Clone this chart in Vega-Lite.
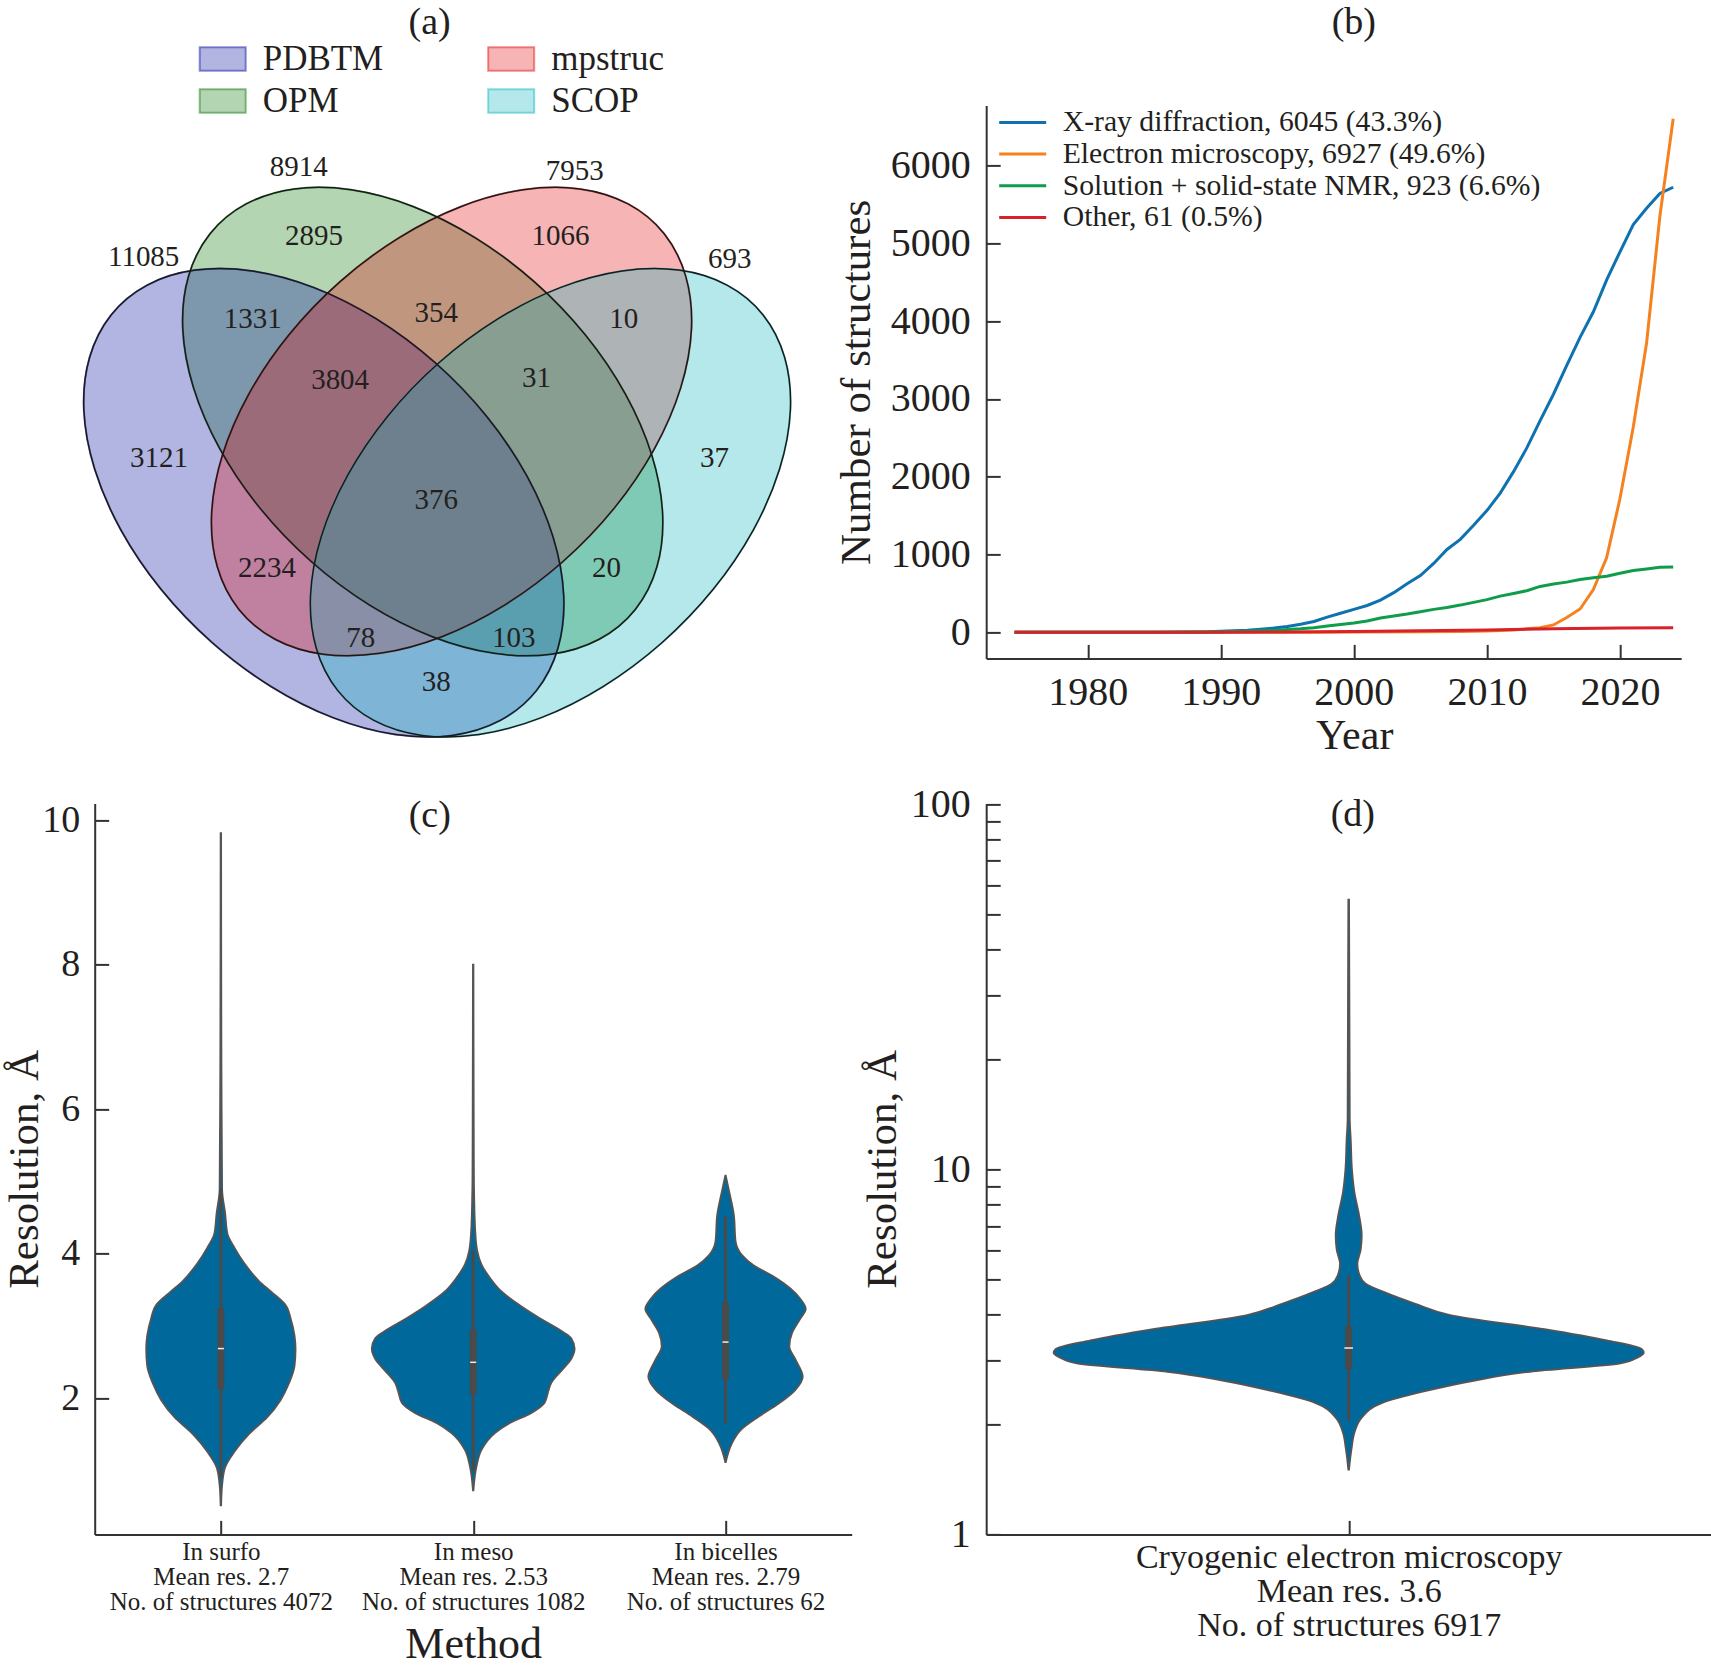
{"$schema":"https://vega.github.io/schema/vega-lite/v6.json","padding":{"left":3.7,"top":3.4,"right":0,"bottom":0},"background":"white","bounds":"flush","columns":2,"spacing":{"row":14,"column":134.5},
"config":{"font":"Liberation Serif","view":{"stroke":null},"text":{"color":"#231F20"},"axis":{"grid":false,"domainColor":"#333333","domainWidth":2,"tickColor":"#333333","tickWidth":2,"tickSize":-14,"labelColor":"#231F20","titleColor":"#231F20","titleFontWeight":"normal","labelFontWeight":"normal","labelOverlap":false,"labelFlush":false,"labelLimit":0}},
"concat":[
{"width":757,"height":684,
"data":{"values":[
{"set":"OPM","k":0,"x":0.2025,"y":0.7314},{"set":"OPM","k":1,"x":0.2493,"y":0.7681},{"set":"OPM","k":2,"x":0.3118,"y":0.7866},{"set":"OPM","k":3,"x":0.3856,"y":0.7855},{"set":"OPM","k":4,"x":0.4657,"y":0.7650},{"set":"OPM","k":5,"x":0.5466,"y":0.7264},{"set":"OPM","k":6,"x":0.6229,"y":0.6724},{"set":"OPM","k":7,"x":0.6894,"y":0.6066},{"set":"OPM","k":8,"x":0.7414,"y":0.5336},{"set":"OPM","k":9,"x":0.7756,"y":0.4582},{"set":"OPM","k":10,"x":0.7895,"y":0.3858},{"set":"OPM","k":11,"x":0.7821,"y":0.3211},{"set":"OPM","k":12,"x":0.7541,"y":0.2686},{"set":"OPM","k":13,"x":0.7073,"y":0.2319},{"set":"OPM","k":14,"x":0.6448,"y":0.2134},{"set":"OPM","k":15,"x":0.5710,"y":0.2145},{"set":"OPM","k":16,"x":0.4909,"y":0.2350},{"set":"OPM","k":17,"x":0.4100,"y":0.2736},{"set":"OPM","k":18,"x":0.3337,"y":0.3276},{"set":"OPM","k":19,"x":0.2672,"y":0.3934},{"set":"OPM","k":20,"x":0.2152,"y":0.4664},{"set":"OPM","k":21,"x":0.1810,"y":0.5418},{"set":"OPM","k":22,"x":0.1671,"y":0.6142},{"set":"OPM","k":23,"x":0.1745,"y":0.6789},
{"set":"PDBTM","k":0,"x":0.0742,"y":0.6314},{"set":"PDBTM","k":1,"x":0.1210,"y":0.6681},{"set":"PDBTM","k":2,"x":0.1835,"y":0.6866},{"set":"PDBTM","k":3,"x":0.2573,"y":0.6855},{"set":"PDBTM","k":4,"x":0.3374,"y":0.6650},{"set":"PDBTM","k":5,"x":0.4183,"y":0.6264},{"set":"PDBTM","k":6,"x":0.4946,"y":0.5724},{"set":"PDBTM","k":7,"x":0.5611,"y":0.5066},{"set":"PDBTM","k":8,"x":0.6131,"y":0.4336},{"set":"PDBTM","k":9,"x":0.6473,"y":0.3582},{"set":"PDBTM","k":10,"x":0.6612,"y":0.2858},{"set":"PDBTM","k":11,"x":0.6538,"y":0.2211},{"set":"PDBTM","k":12,"x":0.6258,"y":0.1686},{"set":"PDBTM","k":13,"x":0.5790,"y":0.1319},{"set":"PDBTM","k":14,"x":0.5165,"y":0.1134},{"set":"PDBTM","k":15,"x":0.4427,"y":0.1145},{"set":"PDBTM","k":16,"x":0.3626,"y":0.1350},{"set":"PDBTM","k":17,"x":0.2817,"y":0.1736},{"set":"PDBTM","k":18,"x":0.2054,"y":0.2276},{"set":"PDBTM","k":19,"x":0.1389,"y":0.2934},{"set":"PDBTM","k":20,"x":0.0869,"y":0.3664},{"set":"PDBTM","k":21,"x":0.0527,"y":0.4418},{"set":"PDBTM","k":22,"x":0.0388,"y":0.5142},{"set":"PDBTM","k":23,"x":0.0462,"y":0.5789},
{"set":"mpstruc","k":0,"x":0.7915,"y":0.7314},{"set":"mpstruc","k":1,"x":0.7447,"y":0.7681},{"set":"mpstruc","k":2,"x":0.6822,"y":0.7866},{"set":"mpstruc","k":3,"x":0.6084,"y":0.7855},{"set":"mpstruc","k":4,"x":0.5283,"y":0.7650},{"set":"mpstruc","k":5,"x":0.4474,"y":0.7264},{"set":"mpstruc","k":6,"x":0.3711,"y":0.6724},{"set":"mpstruc","k":7,"x":0.3046,"y":0.6066},{"set":"mpstruc","k":8,"x":0.2526,"y":0.5336},{"set":"mpstruc","k":9,"x":0.2184,"y":0.4582},{"set":"mpstruc","k":10,"x":0.2045,"y":0.3858},{"set":"mpstruc","k":11,"x":0.2119,"y":0.3211},{"set":"mpstruc","k":12,"x":0.2399,"y":0.2686},{"set":"mpstruc","k":13,"x":0.2867,"y":0.2319},{"set":"mpstruc","k":14,"x":0.3492,"y":0.2134},{"set":"mpstruc","k":15,"x":0.4230,"y":0.2145},{"set":"mpstruc","k":16,"x":0.5031,"y":0.2350},{"set":"mpstruc","k":17,"x":0.5840,"y":0.2736},{"set":"mpstruc","k":18,"x":0.6603,"y":0.3276},{"set":"mpstruc","k":19,"x":0.7268,"y":0.3934},{"set":"mpstruc","k":20,"x":0.7788,"y":0.4664},{"set":"mpstruc","k":21,"x":0.8130,"y":0.5418},{"set":"mpstruc","k":22,"x":0.8269,"y":0.6142},{"set":"mpstruc","k":23,"x":0.8195,"y":0.6789},
{"set":"SCOP","k":0,"x":0.9198,"y":0.6314},{"set":"SCOP","k":1,"x":0.8730,"y":0.6681},{"set":"SCOP","k":2,"x":0.8105,"y":0.6866},{"set":"SCOP","k":3,"x":0.7367,"y":0.6855},{"set":"SCOP","k":4,"x":0.6566,"y":0.6650},{"set":"SCOP","k":5,"x":0.5757,"y":0.6264},{"set":"SCOP","k":6,"x":0.4994,"y":0.5724},{"set":"SCOP","k":7,"x":0.4329,"y":0.5066},{"set":"SCOP","k":8,"x":0.3809,"y":0.4336},{"set":"SCOP","k":9,"x":0.3467,"y":0.3582},{"set":"SCOP","k":10,"x":0.3328,"y":0.2858},{"set":"SCOP","k":11,"x":0.3402,"y":0.2211},{"set":"SCOP","k":12,"x":0.3682,"y":0.1686},{"set":"SCOP","k":13,"x":0.4150,"y":0.1319},{"set":"SCOP","k":14,"x":0.4775,"y":0.1134},{"set":"SCOP","k":15,"x":0.5513,"y":0.1145},{"set":"SCOP","k":16,"x":0.6314,"y":0.1350},{"set":"SCOP","k":17,"x":0.7123,"y":0.1736},{"set":"SCOP","k":18,"x":0.7886,"y":0.2276},{"set":"SCOP","k":19,"x":0.8551,"y":0.2934},{"set":"SCOP","k":20,"x":0.9071,"y":0.3664},{"set":"SCOP","k":21,"x":0.9413,"y":0.4418},{"set":"SCOP","k":22,"x":0.9552,"y":0.5142},{"set":"SCOP","k":23,"x":0.9478,"y":0.5789}
]},
"encoding":{
"x":{"field":"x","type":"quantitative","axis":null,"scale":{"domain":[0.0529,1.0347],"nice":false,"zero":false}},
"y":{"field":"y","type":"quantitative","axis":null,"scale":{"domain":[0.0469,0.8895],"nice":false,"zero":false}}},
"layer":[
{"mark":{"type":"line","interpolate":"cardinal-closed","fillOpacity":0.3,"strokeOpacity":0.45,"strokeWidth":2},
"encoding":{"order":{"field":"k","type":"quantitative"},
"fill":{"field":"set","type":"nominal","scale":{"domain":["PDBTM","OPM","mpstruc","SCOP"],"range":["#000A9E","#057300","#E10505","#05B4B8"]},
"legend":{"orient":"none","legendX":104,"legendY":-70.5,"title":null,"columns":2,"symbolType":"M-1,-0.51H1V0.51H-1Z","symbolSize":2116,"symbolStrokeWidth":2,"labelFontSize":35,"labelOffset":16,"columnPadding":100.5,"rowPadding":0,"labelColor":"#231F20","encoding":{"symbols":{"fillOpacity":{"value":0.3},"strokeOpacity":{"value":0.45}}}}},
"stroke":{"field":"set","type":"nominal","scale":{"domain":["PDBTM","OPM","mpstruc","SCOP"],"range":["#000A9E","#057300","#E10505","#05B4B8"]}}}},
{"mark":{"type":"line","interpolate":"cardinal-closed","stroke":"#1a1a1a","strokeWidth":1.5},
"encoding":{"order":{"field":"k","type":"quantitative"},"detail":{"field":"set","type":"nominal"}}},
{"data":{"values":[
{"x":0.1164,"y":0.7026,"t":"11085"},{"x":0.3174,"y":0.8141,"t":"8914"},{"x":0.6755,"y":0.8088,"t":"7953"},{"x":0.8765,"y":0.6999,"t":"693"},{"x":0.3373,"y":0.7281,"t":"2895"},{"x":0.6571,"y":0.7281,"t":"1066"},{"x":0.2580,"y":0.6260,"t":"1331"},{"x":0.4958,"y":0.6341,"t":"354"},{"x":0.7392,"y":0.6260,"t":"10"},{"x":0.3712,"y":0.5507,"t":"3804"},{"x":0.6260,"y":0.5534,"t":"31"},{"x":0.1363,"y":0.4553,"t":"3121"},{"x":0.4958,"y":0.4029,"t":"376"},{"x":0.8567,"y":0.4553,"t":"37"},{"x":0.2764,"y":0.3196,"t":"2234"},{"x":0.7166,"y":0.3196,"t":"20"},{"x":0.3981,"y":0.2336,"t":"78"},{"x":0.5963,"y":0.2336,"t":"103"},{"x":0.4958,"y":0.1798,"t":"38"}]},
"mark":{"type":"text","fontSize":29,"align":"center","baseline":"middle"},"encoding":{"text":{"field":"t"}}},
{"data":{"values":[{"x":0.4873,"y":0.9915,"t":"(a)"}]},"mark":{"type":"text","fontSize":38,"align":"center","baseline":"middle"},"encoding":{"text":{"field":"t"}}}
]},
{"width":695,"height":553,
"layer":[
{"data":{"values":[
{"yr":1974.5,"s":"xray","n":0},{"yr":1980,"s":"xray","n":0},{"yr":1985,"s":"xray","n":2},{"yr":1988,"s":"xray","n":5},{"yr":1989,"s":"xray","n":8},{"yr":1990,"s":"xray","n":15},{"yr":1991,"s":"xray","n":20},{"yr":1992,"s":"xray","n":28},{"yr":1993,"s":"xray","n":40},{"yr":1994,"s":"xray","n":55},{"yr":1995,"s":"xray","n":75},{"yr":1996,"s":"xray","n":105},{"yr":1997,"s":"xray","n":140},{"yr":1998,"s":"xray","n":195},{"yr":1999,"s":"xray","n":245},{"yr":2000,"s":"xray","n":295},{"yr":2001,"s":"xray","n":345},{"yr":2002,"s":"xray","n":415},{"yr":2003,"s":"xray","n":510},{"yr":2004,"s":"xray","n":625},{"yr":2005,"s":"xray","n":730},{"yr":2006,"s":"xray","n":885},{"yr":2007,"s":"xray","n":1065},{"yr":2008,"s":"xray","n":1195},{"yr":2009,"s":"xray","n":1375},{"yr":2010,"s":"xray","n":1565},{"yr":2011,"s":"xray","n":1790},{"yr":2012,"s":"xray","n":2065},{"yr":2013,"s":"xray","n":2370},{"yr":2014,"s":"xray","n":2720},{"yr":2015,"s":"xray","n":3060},{"yr":2016,"s":"xray","n":3430},{"yr":2017,"s":"xray","n":3790},{"yr":2018,"s":"xray","n":4120},{"yr":2019,"s":"xray","n":4530},{"yr":2020,"s":"xray","n":4890},{"yr":2021,"s":"xray","n":5240},{"yr":2022,"s":"xray","n":5450},{"yr":2023,"s":"xray","n":5640},{"yr":2024,"s":"xray","n":5720},
{"yr":1974.5,"s":"em","n":0},{"yr":1990,"s":"em","n":0},{"yr":1997,"s":"em","n":1},{"yr":2000,"s":"em","n":3},{"yr":2005,"s":"em","n":8},{"yr":2008,"s":"em","n":12},{"yr":2010,"s":"em","n":18},{"yr":2012,"s":"em","n":30},{"yr":2013,"s":"em","n":45},{"yr":2014,"s":"em","n":60},{"yr":2015,"s":"em","n":95},{"yr":2016,"s":"em","n":190},{"yr":2017,"s":"em","n":300},{"yr":2018,"s":"em","n":550},{"yr":2019,"s":"em","n":960},{"yr":2020,"s":"em","n":1720},{"yr":2021,"s":"em","n":2640},{"yr":2022,"s":"em","n":3720},{"yr":2023,"s":"em","n":5350},{"yr":2024,"s":"em","n":6600},
{"yr":1974.5,"s":"nmr","n":0},{"yr":1985,"s":"nmr","n":1},{"yr":1988,"s":"nmr","n":3},{"yr":1990,"s":"nmr","n":8},{"yr":1992,"s":"nmr","n":15},{"yr":1994,"s":"nmr","n":25},{"yr":1995,"s":"nmr","n":35},{"yr":1996,"s":"nmr","n":45},{"yr":1997,"s":"nmr","n":60},{"yr":1998,"s":"nmr","n":80},{"yr":1999,"s":"nmr","n":100},{"yr":2000,"s":"nmr","n":120},{"yr":2001,"s":"nmr","n":145},{"yr":2002,"s":"nmr","n":185},{"yr":2003,"s":"nmr","n":210},{"yr":2004,"s":"nmr","n":235},{"yr":2005,"s":"nmr","n":265},{"yr":2006,"s":"nmr","n":295},{"yr":2007,"s":"nmr","n":320},{"yr":2008,"s":"nmr","n":350},{"yr":2009,"s":"nmr","n":385},{"yr":2010,"s":"nmr","n":420},{"yr":2011,"s":"nmr","n":465},{"yr":2012,"s":"nmr","n":500},{"yr":2013,"s":"nmr","n":535},{"yr":2014,"s":"nmr","n":590},{"yr":2015,"s":"nmr","n":620},{"yr":2016,"s":"nmr","n":645},{"yr":2017,"s":"nmr","n":680},{"yr":2018,"s":"nmr","n":700},{"yr":2019,"s":"nmr","n":720},{"yr":2020,"s":"nmr","n":760},{"yr":2021,"s":"nmr","n":795},{"yr":2022,"s":"nmr","n":815},{"yr":2023,"s":"nmr","n":835},{"yr":2024,"s":"nmr","n":840},
{"yr":1974.5,"s":"other","n":0},{"yr":1990,"s":"other","n":2},{"yr":1995,"s":"other","n":5},{"yr":2000,"s":"other","n":10},{"yr":2005,"s":"other","n":20},{"yr":2010,"s":"other","n":30},{"yr":2015,"s":"other","n":45},{"yr":2020,"s":"other","n":55},{"yr":2024,"s":"other","n":60}
]},
"mark":{"type":"line","strokeWidth":3},
"encoding":{
"x":{"field":"yr","type":"quantitative","scale":{"domain":[1972.37,2024.6],"nice":false,"zero":false},
"axis":{"title":"Year","titleFontSize":42,"titleX":368,"titlePadding":3,"values":[1980,1990,2000,2010,2020],"format":"d","labelFontSize":40,"labelPadding":28}},
"y":{"field":"n","type":"quantitative","scale":{"domain":[-335,6772],"nice":false,"zero":false},
"axis":{"title":"Number of structures","titleFontSize":43,"titlePadding":12,"values":[0,1000,2000,3000,4000,5000,6000],"format":"d","labelFontSize":40,"labelPadding":30}},
"color":{"field":"s","type":"nominal","scale":{"domain":["xray","em","nmr","other"],"range":["#0E72B0","#F5821F","#0F9D4A","#D7222B"]},
"legend":{"orient":"none","legendX":903,"legendY":2,"title":null,"symbolType":"stroke","symbolSize":2209,"symbolStrokeWidth":3,"labelFontSize":29.7,"labelOffset":15,"clipHeight":30,"rowPadding":1.7,"labelLimit":600,"labelColor":"#231F20",
"labelExpr":"{'xray':'X-ray diffraction, 6045 (43.3%)','em':'Electron microscopy, 6927 (49.6%)','nmr':'Solution + solid-state NMR, 923 (6.6%)','other':'Other, 61 (0.5%)'}[datum.label]"}}}},
{"data":{"values":[{"x":2000,"y":7836,"t":"(b)"}]},"mark":{"type":"text","fontSize":38,"align":"center","baseline":"middle"},"encoding":{"x":{"field":"x","type":"quantitative"},"y":{"field":"y","type":"quantitative"},"text":{"field":"t"}}}
]},
{"width":757,"height":731,
"layer":[
{"data":{"values":[
{"m":"In surfo","r":9.82,"lo":-0.001,"hi":0.001},{"m":"In surfo","r":7,"lo":-0.002,"hi":0.002},{"m":"In surfo","r":6,"lo":-0.003,"hi":0.003},{"m":"In surfo","r":5.5,"lo":-0.004,"hi":0.004},{"m":"In surfo","r":4.89,"lo":-0.005,"hi":0.005},{"m":"In surfo","r":4.56,"lo":-0.017,"hi":0.017},{"m":"In surfo","r":4.28,"lo":-0.026,"hi":0.026},{"m":"In surfo","r":4.09,"lo":-0.053,"hi":0.053},{"m":"In surfo","r":3.86,"lo":-0.095,"hi":0.095},{"m":"In surfo","r":3.62,"lo":-0.152,"hi":0.152},{"m":"In surfo","r":3.48,"lo":-0.198,"hi":0.198},{"m":"In surfo","r":3.29,"lo":-0.257,"hi":0.257},{"m":"In surfo","r":3.10,"lo":-0.277,"hi":0.277},{"m":"In surfo","r":2.87,"lo":-0.292,"hi":0.292},{"m":"In surfo","r":2.68,"lo":-0.296,"hi":0.296},{"m":"In surfo","r":2.45,"lo":-0.292,"hi":0.292},{"m":"In surfo","r":2.21,"lo":-0.270,"hi":0.270},{"m":"In surfo","r":1.98,"lo":-0.237,"hi":0.237},{"m":"In surfo","r":1.74,"lo":-0.184,"hi":0.184},{"m":"In surfo","r":1.51,"lo":-0.112,"hi":0.112},{"m":"In surfo","r":1.27,"lo":-0.055,"hi":0.055},{"m":"In surfo","r":1.04,"lo":-0.016,"hi":0.016},{"m":"In surfo","r":0.80,"lo":-0.005,"hi":0.005},{"m":"In surfo","r":0.52,"lo":-0.001,"hi":0.001},
{"m":"In meso","r":8.0,"lo":0.999,"hi":1.001},{"m":"In meso","r":6,"lo":0.998,"hi":1.002},{"m":"In meso","r":5,"lo":0.997,"hi":1.003},{"m":"In meso","r":4.78,"lo":0.996,"hi":1.004},{"m":"In meso","r":4.32,"lo":0.992,"hi":1.008},{"m":"In meso","r":4.04,"lo":0.984,"hi":1.016},{"m":"In meso","r":3.85,"lo":0.967,"hi":1.033},{"m":"In meso","r":3.67,"lo":0.934,"hi":1.066},{"m":"In meso","r":3.48,"lo":0.888,"hi":1.112},{"m":"In meso","r":3.29,"lo":0.816,"hi":1.184},{"m":"In meso","r":3.11,"lo":0.736,"hi":1.264},{"m":"In meso","r":2.92,"lo":0.644,"hi":1.356},{"m":"In meso","r":2.83,"lo":0.611,"hi":1.389},{"m":"In meso","r":2.69,"lo":0.598,"hi":1.402},{"m":"In meso","r":2.55,"lo":0.611,"hi":1.389},{"m":"In meso","r":2.41,"lo":0.644,"hi":1.356},{"m":"In meso","r":2.22,"lo":0.690,"hi":1.310},{"m":"In meso","r":2.08,"lo":0.704,"hi":1.296},{"m":"In meso","r":1.94,"lo":0.717,"hi":1.283},{"m":"In meso","r":1.80,"lo":0.769,"hi":1.231},{"m":"In meso","r":1.66,"lo":0.855,"hi":1.145},{"m":"In meso","r":1.52,"lo":0.914,"hi":1.086},{"m":"In meso","r":1.29,"lo":0.967,"hi":1.033},{"m":"In meso","r":1.06,"lo":0.987,"hi":1.013},{"m":"In meso","r":0.73,"lo":0.999,"hi":1.001},
{"m":"In bicelles","r":5.08,"lo":1.999,"hi":2.001},{"m":"In bicelles","r":4.87,"lo":1.986,"hi":2.014},{"m":"In bicelles","r":4.54,"lo":1.967,"hi":2.033},{"m":"In bicelles","r":4.17,"lo":1.960,"hi":2.040},{"m":"In bicelles","r":3.98,"lo":1.934,"hi":2.066},{"m":"In bicelles","r":3.84,"lo":1.888,"hi":2.112},{"m":"In bicelles","r":3.70,"lo":1.816,"hi":2.184},{"m":"In bicelles","r":3.52,"lo":1.743,"hi":2.257},{"m":"In bicelles","r":3.38,"lo":1.704,"hi":2.296},{"m":"In bicelles","r":3.24,"lo":1.682,"hi":2.318},{"m":"In bicelles","r":3.10,"lo":1.704,"hi":2.296},{"m":"In bicelles","r":2.91,"lo":1.736,"hi":2.264},{"m":"In bicelles","r":2.72,"lo":1.747,"hi":2.253},{"m":"In bicelles","r":2.54,"lo":1.723,"hi":2.277},{"m":"In bicelles","r":2.30,"lo":1.694,"hi":2.306},{"m":"In bicelles","r":2.12,"lo":1.723,"hi":2.277},{"m":"In bicelles","r":1.93,"lo":1.789,"hi":2.211},{"m":"In bicelles","r":1.75,"lo":1.868,"hi":2.132},{"m":"In bicelles","r":1.56,"lo":1.941,"hi":2.059},{"m":"In bicelles","r":1.37,"lo":1.976,"hi":2.024},{"m":"In bicelles","r":1.12,"lo":1.999,"hi":2.001}
]},
"mark":{"type":"area","orient":"horizontal","interpolate":"monotone","fill":"#00689A","stroke":"#555555","strokeWidth":1.8},
"encoding":{
"x":{"field":"lo","type":"quantitative","scale":{"domain":[-0.5,2.5],"nice":false,"zero":false},
"axis":{"title":"Method","titleFontSize":44,"titlePadding":8,"values":[0,1,2],"labelFontSize":25,"labelLineHeight":25,"labelPadding":19,"labelExpr":"[['In surfo','Mean res. 2.7','No. of structures 4072'],['In meso','Mean res. 2.53','No. of structures 1082'],['In bicelles','Mean res. 2.79','No. of structures 62']][datum.value]"}},
"x2":{"field":"hi"},
"y":{"field":"r","type":"quantitative","sort":null,"scale":{"domain":[0.12,10.23],"nice":false,"zero":false},
"axis":{"title":"Resolution, Å","titleFontSize":43,"titlePadding":-5,"values":[2,4,6,8,10],"format":"d","labelFontSize":38,"labelPadding":29}},
"detail":{"field":"m"}}},
{"data":{"name":"boxC","values":[{"pos":0,"wlo":0.9,"q1":2.13,"med":2.69,"q3":3.25,"whi":4.9,"mlo":-0.012,"mhi":0.012},{"pos":1,"wlo":1.0,"q1":2.06,"med":2.5,"q3":2.95,"whi":4.05,"mlo":0.988,"mhi":1.012},{"pos":2,"wlo":1.65,"q1":2.26,"med":2.78,"q3":3.33,"whi":4.52,"mlo":1.988,"mhi":2.012}]},
"mark":{"type":"rule","color":"#4a4a4a","strokeWidth":3},"encoding":{"x":{"field":"pos","type":"quantitative"},"y":{"field":"wlo","type":"quantitative"},"y2":{"field":"whi"}}},
{"data":{"name":"boxC"},"mark":{"type":"rule","color":"#4a4a4a","strokeWidth":7},"encoding":{"x":{"field":"pos","type":"quantitative"},"y":{"field":"q1","type":"quantitative"},"y2":{"field":"q3"}}},
{"data":{"name":"boxC"},"mark":{"type":"rule","color":"#eeeeee","strokeWidth":1.5},"encoding":{"x":{"field":"mlo","type":"quantitative"},"x2":{"field":"mhi"},"y":{"field":"med","type":"quantitative"}}},
{"data":{"values":[{"x":0.828,"y":10.06,"t":"(c)"}]},"mark":{"type":"text","fontSize":38,"align":"center","baseline":"middle"},"encoding":{"x":{"field":"x","type":"quantitative"},"y":{"field":"y","type":"quantitative"},"text":{"field":"t"}}}
]},
{"width":725,"height":731,
"layer":[
{"data":{"values":[
{"r":54.8,"lo":-0.0005,"hi":0.0005},{"r":28.2,"lo":-0.001,"hi":0.001},{"r":13.8,"lo":-0.0015,"hi":0.0015},{"r":11.9,"lo":-0.003,"hi":0.003},{"r":10,"lo":-0.0045,"hi":0.0045},{"r":8.63,"lo":-0.008,"hi":0.008},{"r":7.48,"lo":-0.0144,"hi":0.0144},{"r":6.6,"lo":-0.018,"hi":0.018},{"r":6.03,"lo":-0.0166,"hi":0.0166},{"r":5.51,"lo":-0.012,"hi":0.012},{"r":5.13,"lo":-0.015,"hi":0.015},{"r":4.86,"lo":-0.0235,"hi":0.0235},{"r":4.61,"lo":-0.049,"hi":0.049},{"r":4.29,"lo":-0.091,"hi":0.091},{"r":3.99,"lo":-0.14,"hi":0.14},{"r":3.65,"lo":-0.27,"hi":0.27},{"r":3.40,"lo":-0.356,"hi":0.356},{"r":3.22,"lo":-0.404,"hi":0.404},{"r":3.14,"lo":-0.407,"hi":0.407},{"r":3.05,"lo":-0.398,"hi":0.398},{"r":2.94,"lo":-0.375,"hi":0.375},{"r":2.79,"lo":-0.25,"hi":0.25},{"r":2.64,"lo":-0.174,"hi":0.174},{"r":2.46,"lo":-0.102,"hi":0.102},{"r":2.29,"lo":-0.0455,"hi":0.0455},{"r":2.09,"lo":-0.018,"hi":0.018},{"r":1.91,"lo":-0.0083,"hi":0.0083},{"r":1.72,"lo":-0.004,"hi":0.004},{"r":1.505,"lo":-0.0005,"hi":0.0005}
]},
"mark":{"type":"area","orient":"horizontal","interpolate":"monotone","fill":"#00689A","stroke":"#555555","strokeWidth":1.8},
"encoding":{
"x":{"field":"lo","type":"quantitative","scale":{"domain":[-0.5,0.5],"nice":false,"zero":false},
"axis":{"title":null,"values":[0],"labelFontSize":34,"labelLineHeight":34,"labelPadding":20,"labelExpr":"['Cryogenic electron microscopy','Mean res. 3.6','No. of  structures 6917']"}},
"x2":{"field":"hi"},
"y":{"field":"r","type":"quantitative","sort":null,"scale":{"type":"log","domain":[1,100.6],"nice":false},
"axis":{"title":"Resolution, Å","titleFontSize":43,"titlePadding":6,"values":[1,2,3,4,5,6,7,8,9,10,20,30,40,50,60,70,80,90,100],"format":"d","labelFontSize":40,"labelPadding":30,"labelExpr":"datum.value==1||datum.value==10||datum.value==100?datum.label:''"}}}},
{"data":{"name":"boxD","values":[{"pos":0,"wlo":2.05,"q1":2.84,"med":3.24,"q3":3.72,"whi":5.13,"mlo":-0.006,"mhi":0.006}]},
"mark":{"type":"rule","color":"#4a4a4a","strokeWidth":3},"encoding":{"x":{"field":"pos","type":"quantitative"},"y":{"field":"wlo","type":"quantitative"},"y2":{"field":"whi"}}},
{"data":{"name":"boxD"},"mark":{"type":"rule","color":"#4a4a4a","strokeWidth":7},"encoding":{"x":{"field":"pos","type":"quantitative"},"y":{"field":"q1","type":"quantitative"},"y2":{"field":"q3"}}},
{"data":{"name":"boxD"},"mark":{"type":"rule","color":"#eeeeee","strokeWidth":1.5},"encoding":{"x":{"field":"mlo","type":"quantitative"},"x2":{"field":"mhi"},"y":{"field":"med","type":"quantitative"}}},
{"data":{"values":[{"x":0.0057,"y":93.4,"t":"(d)"}]},"mark":{"type":"text","fontSize":38,"align":"center","baseline":"middle"},"encoding":{"x":{"field":"x","type":"quantitative"},"y":{"field":"y","type":"quantitative"},"text":{"field":"t"}}}
]}
]}
